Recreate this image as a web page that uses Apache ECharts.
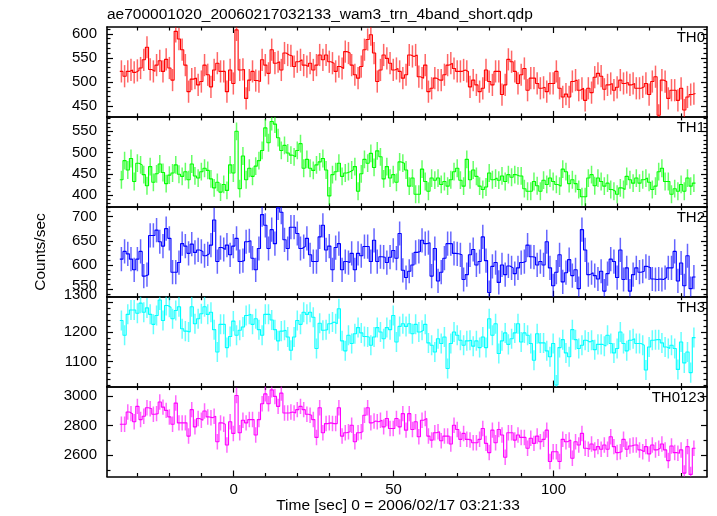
<!DOCTYPE html>
<html><head><meta charset="utf-8">
<script src="https://cdn.jsdelivr.net/npm/echarts@6/dist/echarts.min.js"></script>
<style>html,body{margin:0;padding:0;background:#fff}#c{width:717px;height:516px}</style>
</head><body><div id="c"></div>
<script>
const FONT = '"Liberation Sans", Arial, Helvetica, sans-serif';
const titleText = 'ae700001020_20060217032133_wam3_trn_4band_short.qdp';
const xAxisTitle = 'Time [sec] 0 = 2006/02/17 03:21:33';
const yAxisTitle = 'Counts/sec';
const panelNames = ['TH0', 'TH1', 'TH2', 'TH3', 'TH0123'];
const binStart = -35.6, binWidth = 1;
const xMin = -39.6, xMax = 148;
const xMajorTicks = [0, 50, 100];
const xMinorStep = 10;

const th0 = [522,512,522,525,520,524,529,546,572,526,
522,535,544,522,547,529,504,605,589,567,
535,480,506,508,494,501,535,515,490,525,
539,522,522,480,525,497,608,525,526,466,
504,522,503,501,546,535,518,567,539,542,
525,560,556,554,532,542,546,535,532,539,
525,535,556,546,556,542,539,522,532,528,
563,560,535,515,508,532,567,588,598,560,
501,525,556,549,539,525,528,522,508,515,
556,553,556,511,508,535,480,487,508,504,
504,515,535,539,528,522,522,525,522,490,
504,494,480,487,525,501,494,522,
522,474,494,547,542,522,497,515,528,483,508,508,497,487,489,480,497,497,522,487,469,475,469,501,504,483,487,462,487,478,510,518,512,485,494,497,483,489,504,497,499,494,
497,487,487,490,497,474,501,511,431,504,501,466,483,483,462,487,442,469,474,476];

const th1 = [436,481,459,486,432,475,471,448,422,467,
430,450,473,453,427,447,452,471,449,444,
455,436,473,445,440,455,463,458,438,417,
430,407,425,411,471,452,550,415,492,436,
463,444,468,481,505,558,523,573,567,535,
505,517,499,494,490,505,521,463,484,463,
458,471,478,486,459,398,448,455,475,444,
452,455,459,467,409,450,484,475,498,465,
504,490,438,467,440,448,430,478,475,459,
421,440,402,402,461,432,409,440,435,440,
425,432,421,436,455,463,435,421,484,436,
459,444,421,413,419,452,436,440,435,445,
432,448,442,448,445,445,415,409,409,432,
422,409,435,425,440,432,425,421,461,455,
427,436,427,413,396,396,440,448,422,440,
432,421,428,413,409,402,417,413,444,436,
428,440,428,436,440,430,413,421,455,463,
432,432,402,415,409,425,409,440,421,428];

const th2 = [612,628,623,612,590,612,628,577,580,661,
661,672,648,639,675,655,585,585,605,644,
639,624,643,626,631,628,619,623,641,693,
607,636,632,641,621,639,655,607,609,648,
650,614,590,634,704,682,634,673,644,718,
709,652,634,678,678,665,634,638,655,621,
607,607,658,682,631,639,590,636,644,590,
607,605,624,590,624,619,638,638,607,651,
607,617,616,605,616,630,614,665,589,574,
587,600,626,628,651,644,646,577,634,567,
585,614,644,644,624,623,621,570,580,621,
632,600,607,658,609,543,597,605,564,600,
580,598,594,582,594,605,607,641,617,616,
600,607,600,648,594,557,585,621,565,584,
611,578,590,551,673,631,580,584,578,571,
587,546,582,612,607,574,631,570,594,546,
580,594,585,587,597,594,571,570,571,570,
574,594,594,628,567,604,557,619,551,575];

const th3 = [1239,1189,1260,1275,1275,1264,1298,1267,1282,1260,
1226,1256,1309,1239,1290,1284,1245,1273,1286,1211,
1203,1200,1286,1228,1245,1262,1286,1260,1267,1208,
1132,1226,1226,1147,1185,1237,1189,1206,1217,1256,
1260,1226,1245,1208,1189,1260,1260,1241,1208,1170,
1203,1206,1183,1138,1183,1239,1226,1267,1260,1267,
1250,1144,1230,1206,1208,1228,1234,1228,1279,1170,
1136,1189,1161,1194,1215,1197,1185,1183,1155,1183,
1215,1200,1177,1215,1208,1256,1166,1219,1228,1219,
1228,1194,1226,1200,1206,1226,1163,1155,1132,1177,
1161,1183,1076,1161,1200,1189,1172,1155,1170,1172,
1152,1170,1147,1183,1147,1245,1189,1228,1127,1170,
1197,1158,1177,1197,1228,1166,1197,1189,1161,1104,
1194,1163,1163,1136,1116,1161,1020,1147,1174,1129,
1116,1208,1174,1144,1155,1172,1166,1172,1140,1158,
1158,1152,1189,1161,1129,1144,1200,1161,1136,1172,
1177,1161,1161,1155,1071,1149,1172,1174,1174,1163,
1149,1144,1155,1144,1073,1166,1095,1132,1062,1181];

const th0123 = [2809,2809,2891,2880,2825,2929,2840,2862,2920,2913,
2876,2880,2958,2924,2902,2858,2809,2951,2818,2818,
2818,2729,2907,2791,2847,2836,2898,2858,2853,2862,
2691,2818,2809,2669,2825,2747,3002,2751,2836,2818,
2840,2840,2736,2840,2947,3013,2947,3040,2996,2929,
3018,2884,2884,2891,2884,2907,2929,2907,2876,2869,
2840,2720,2920,2751,2813,2818,2813,2813,2920,2729,
2751,2758,2802,2691,2751,2758,2869,2920,2818,2831,
2825,2836,2791,2847,2780,2780,2847,2791,2880,2769,
2880,2773,2825,2725,2836,2847,2729,2702,2751,2758,
2698,2729,2729,2676,2802,2773,2707,2747,2707,2702,
2684,2684,2707,2780,2680,2618,2769,2684,2773,2736,
2587,2751,2751,2702,2736,2720,2720,2647,2714,2680,
2729,2691,2707,2769,2558,2624,2624,2558,2707,2691,
2702,2580,2691,2669,2747,2647,2640,2676,2636,2658,
2640,2669,2640,2725,2658,2618,2624,2707,2640,2662,
2669,2669,2636,2624,2658,2609,2669,2636,2647,2676,
2636,2564,2662,2618,2613,2636,2480,2658,2471,2647];

const seriesValues = [th0, th1, th2, th3, th0123];
const errHalf = [23, 21, 25, 34, 52];
const yRanges = [[427.7, 614], [372.4, 583.9], [534.4, 720.2], [1014.5, 1320], [2457, 3062]];
const yMajorTicks = [[450, 500, 550, 600], [400, 450, 500, 550], [550, 600, 650, 700], [1100, 1200, 1300], [2600, 2800, 3000]];
const yMinorSteps = [10, 10, 10, 20, 100];
const colors = ['#ff0000', '#00ff00', '#0000ff', '#00ffff', '#ff00ff'];

// layout
const gridLeft = 107, gridWidth = 600, gridTop0 = 27, panelH = 89.9;
// label nudges (px upward) for crowded edge labels
const labelNudge = [{}, {}, { 550: 3 }, { 1300: 8 }, {}];

function minorList(lo, hi, step, majors) {
  const out = [];
  for (let v = Math.ceil(lo / step) * step; v <= hi; v += step) {
    if (majors.indexOf(v) < 0) out.push(v);
  }
  return out;
}
const xMinorTicks = minorList(xMin, xMax, xMinorStep, xMajorTicks);

function mkAxis(kind, p, pos, min, max, ticks, len, showLine, showLabel, nudge) {
  const rich = {};
  nudge = nudge || {};
  Object.keys(nudge).forEach(function (k) {
    rich['n' + k] = { fontSize: 15, fontFamily: FONT, color: '#000', padding: [0, 0, 2 * nudge[k], 0] };
  });
  return {
    type: 'value', gridIndex: p, position: pos, min: min, max: max,
    splitLine: { show: false }, minorTick: { show: false },
    axisLine: { show: showLine, onZero: false, lineStyle: { color: '#000', width: 1.6 } },
    axisTick: { show: true, inside: true, length: len, customValues: ticks, lineStyle: { color: '#000', width: 1.2 } },
    axisLabel: { show: showLabel, customValues: ticks, color: '#000', fontSize: 15, fontFamily: FONT,
      margin: kind === 'x' ? 6 : 10, rich: rich,
      formatter: function (v) { return nudge[v] ? '{n' + v + '|' + v + '}' : String(v); } },
    axisPointer: { show: false }
  };
}

const grids = [], xAxes = [], yAxes = [], series = [], graphics = [];
for (let p = 0; p < 5; p++) {
  const top = gridTop0 + p * panelH;
  grids.push({ left: gridLeft, top: top, width: gridWidth, height: panelH, show: false });
  const last = p === 4;
  xAxes.push(mkAxis('x', p, 'bottom', xMin, xMax, xMajorTicks, 6, true, last));
  xAxes.push(mkAxis('x', p, 'bottom', xMin, xMax, xMinorTicks, 3.5, false, false));
  xAxes.push(mkAxis('x', p, 'top', xMin, xMax, xMajorTicks, 6, true, false));
  xAxes.push(mkAxis('x', p, 'top', xMin, xMax, xMinorTicks, 3.5, false, false));
  const [ymin, ymax] = yRanges[p];
  const yMin = minorList(ymin, ymax, yMinorSteps[p], yMajorTicks[p]);
  yAxes.push(mkAxis('y', p, 'left', ymin, ymax, yMajorTicks[p], 6, true, true, labelNudge[p]));
  yAxes.push(mkAxis('y', p, 'left', ymin, ymax, yMin, 3.5, false, false));
  yAxes.push(mkAxis('y', p, 'right', ymin, ymax, yMajorTicks[p], 6, true, false));
  yAxes.push(mkAxis('y', p, 'right', ymin, ymax, yMin, 3.5, false, false));

  const vals = seriesValues[p];
  const n = vals.length;
  const stepData = vals.map((v, i) => [binStart + i * binWidth, v]);
  stepData.push([binStart + n * binWidth, vals[n - 1]]);
  const col = colors[p];
  const e = errHalf[p];
  series.push({
    type: 'custom', xAxisIndex: 4 * p, yAxisIndex: 4 * p, clip: true, animation: false, silent: true,
    data: vals.map((v, i) => [binStart + (i + 0.5) * binWidth, v - e, v + e]),
    renderItem: function (params, api) {
      const a = api.coord([api.value(0), api.value(1)]);
      const b = api.coord([api.value(0), api.value(2)]);
      return { type: 'line', shape: { x1: a[0], y1: a[1], x2: b[0], y2: b[1] },
        style: { stroke: col, lineWidth: 1.5, opacity: 0.6 } };
    }
  });
  series.push({
    type: 'line', xAxisIndex: 4 * p, yAxisIndex: 4 * p, step: 'end', data: stepData,
    showSymbol: false, symbol: 'none', clip: true, animation: false, silent: true,
    lineStyle: { color: col, width: 1.1 }
  });
  graphics.push({ type: 'text', x: 705, y: top + 11, silent: true,
    style: { text: panelNames[p], font: '15px ' + FONT, fill: '#000', align: 'right', verticalAlign: 'middle' } });
}
graphics.push({ type: 'text', x: 107, y: 15, style: { text: titleText, font: '15.5px ' + FONT, fill: '#000', align: 'left', verticalAlign: 'middle' } });
graphics.push({ type: 'text', x: 398, y: 506, style: { text: xAxisTitle, font: '15.5px ' + FONT, fill: '#000', align: 'center', verticalAlign: 'middle' } });
graphics.push({ type: 'text', x: 41, y: 252, rotation: Math.PI / 2, style: { text: yAxisTitle, font: '15.5px ' + FONT, fill: '#000', align: 'center', verticalAlign: 'middle' } });

const chart = echarts.init(document.getElementById('c'), null, { renderer: 'canvas' });
chart.setOption({
  animation: false, backgroundColor: '#fff',
  grid: grids, xAxis: xAxes, yAxis: yAxes, series: series, graphic: graphics
});
</script></body></html>
